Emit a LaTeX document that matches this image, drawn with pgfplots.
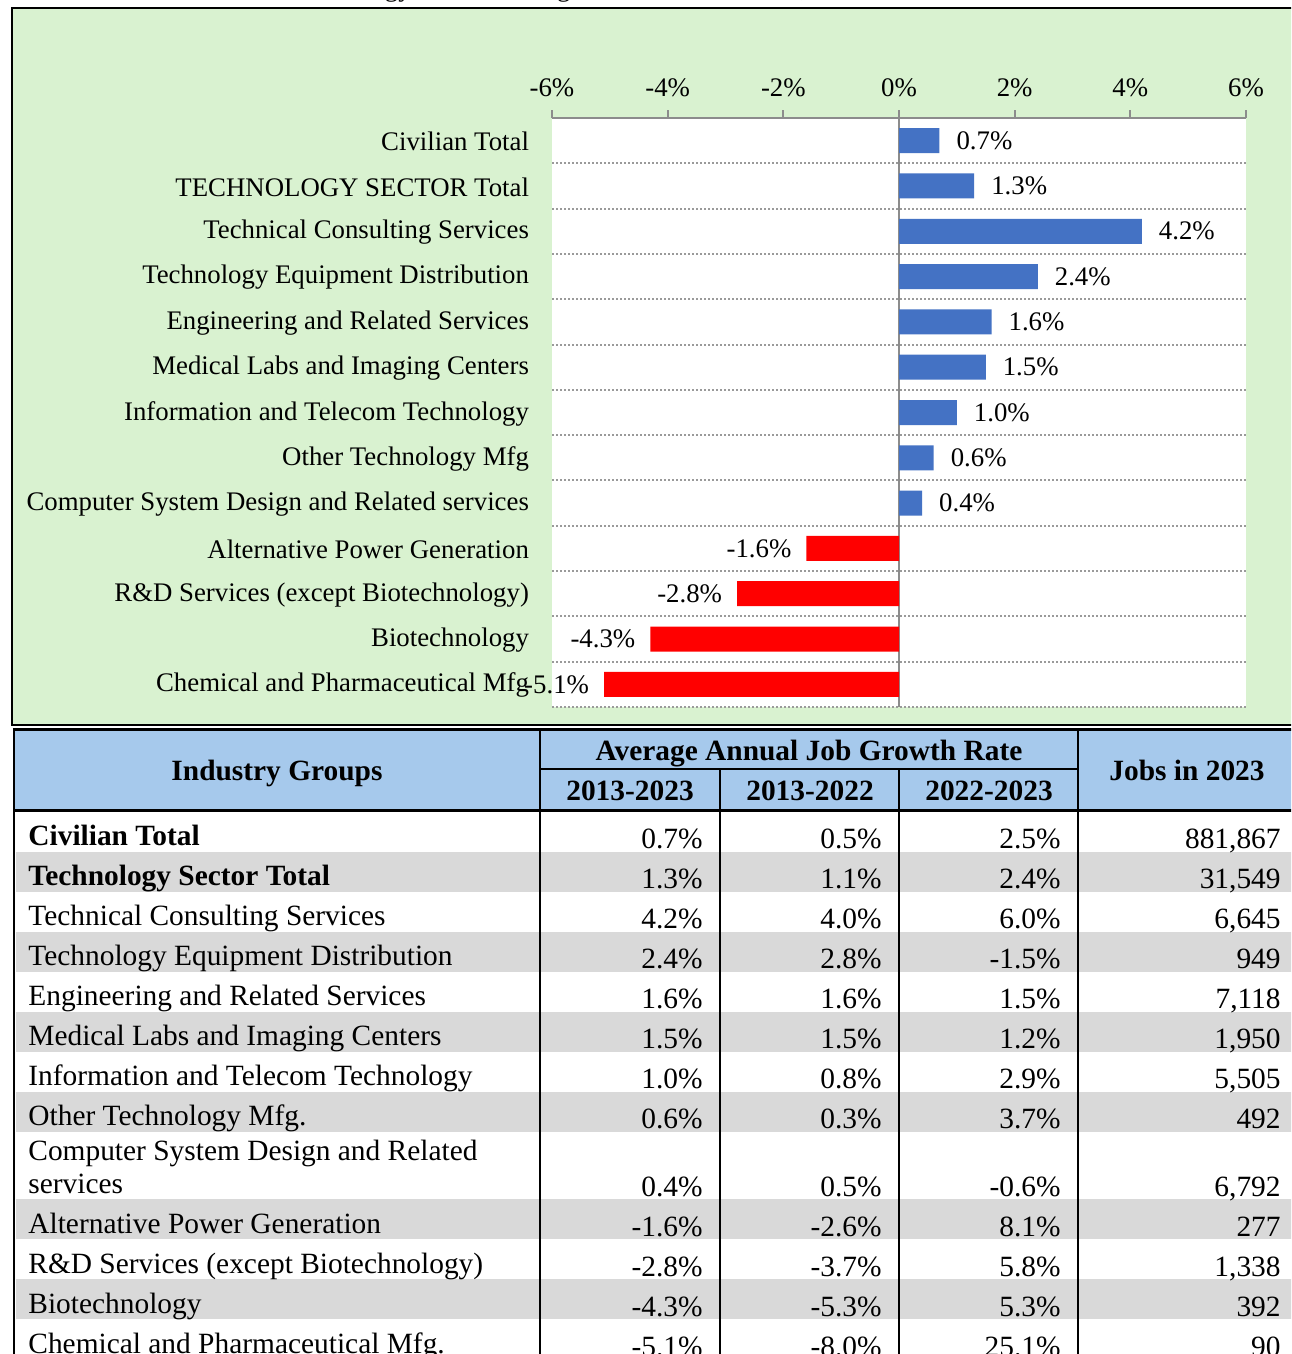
\documentclass[border=0pt]{standalone}
\usepackage{fontspec}
\setmainfont{Liberation Serif}
\usepackage{pgfplots}
\pgfplotsset{compat=1.18}
\definecolor{bg}{HTML}{D9F2D0}
\definecolor{barblue}{HTML}{4472C4}
\definecolor{barred}{HTML}{FF0000}
\definecolor{hdr}{HTML}{A6C9EC}
\definecolor{rowgray}{HTML}{D9D9D9}
\definecolor{axgray}{HTML}{8C8C8C}
\definecolor{gridgray}{HTML}{9A9A9A}
\newcommand\cfont{\fontsize{13.4}{15}\selectfont}
\newcommand\tfont{\fontsize{14.7}{17}\selectfont}
\newcommand\trow[6]{%
  \node[anchor=base west,font=\tfont,inner sep=0pt] at (28,#1) {#2};
  \node[anchor=base east,font=\tfont,inner sep=0pt] at (703,#1+3) {#3};
  \node[anchor=base east,font=\tfont,inner sep=0pt] at (882,#1+3) {#4};
  \node[anchor=base east,font=\tfont,inner sep=0pt] at (1061,#1+3) {#5};
  \node[anchor=base east,font=\tfont,inner sep=0pt] at (1281,#1+3) {#6};}
\begin{document}
\begin{tikzpicture}
\begin{scope}[x=0.5pt,y=-0.5pt]
\useasboundingbox (0,0) rectangle (1291,1354);
\clip (0,0) rectangle (1291,1354);
\node[anchor=base,font=\cfont] at (560,-3) {Table 4: Technology Sector Average Annual Job Growth, 2013-2023};
\draw[fill=bg,line width=1pt] (12,8) rectangle (1320,725);
\end{scope}

\begin{axis}[
  at={(276pt,-59pt)}, anchor=north west,
  scale only axis, width=347pt, height=294.5pt,
  xbar, bar width=12.5pt, bar shift=0pt,
  xmin=-6, xmax=6, ymin=-0.5, ymax=12.5, y dir=reverse,
  enlargelimits=false, clip=false,
  axis x line*=top, axis y line*=left,
  y axis line style={draw=none},
  x axis line style={draw=axgray, line width=1.2pt},
  axis background/.style={fill=white},
  xtick={-6,-4,...,6},
  xticklabel={\pgfmathprintnumber{\tick}\%},
  tick align=outside, major tick length=4pt, minor tick length=0pt,
  xtick style={draw=axgray, line width=1pt},
  ytick={0,...,12},
  yticklabels={Civilian Total,TECHNOLOGY SECTOR Total,Technical Consulting Services,Technology Equipment Distribution,Engineering and Related Services,Medical Labs and Imaging Centers,Information and Telecom Technology,Other Technology Mfg,Computer System Design and Related services,Alternative Power Generation,R\&D Services (except Biotechnology),Biotechnology,Chemical and Pharmaceutical Mfg},
  ytick style={draw=none},
  minor ytick={0.5,1.5,...,12.5},
  yminorgrids,
  minor grid style={draw=gridgray, dash pattern=on 1pt off 1pt, line width=1pt},
  extra x ticks={0}, extra x tick labels={},
  extra x tick style={grid=major, major grid style={draw=axgray, line width=1.4pt}, major tick length=0pt},
  tick label style={font=\cfont},
  yticklabel style={xshift=-4pt, yshift=-0.5pt},
  xticklabel style={yshift=3pt},
  /pgf/number format/assume math mode=true,
  point meta=x,
  nodes near coords={\pgfmathprintnumber[fixed,fixed zerofill,precision=1]{\pgfplotspointmeta}\%},
  nodes near coords style={font=\cfont, text=black},
]
\addplot[fill=barblue, draw=none,
  every node near coord/.append style={anchor=west, xshift=5pt}]
  coordinates {(0.7,0) (1.3,1) (4.2,2) (2.4,3) (1.6,4) (1.5,5) (1.0,6) (0.6,7) (0.4,8)};
\addplot[fill=barred, draw=none,
  every node near coord/.append style={anchor=east, xshift=-4pt}]
  coordinates {(-1.6,9) (-2.8,10) (-4.3,11) (-5.1,12)};
\end{axis}

\begin{scope}[x=0.5pt,y=-0.5pt]
\clip (0,0) rectangle (1291,1354);
% header
\fill[hdr] (14,729) rectangle (1320,810);
% gray rows
\fill[rowgray] (16,852) rectangle (1320,892);
\fill[rowgray] (16,932) rectangle (1320,972);
\fill[rowgray] (16,1012) rectangle (1320,1052);
\fill[rowgray] (16,1092) rectangle (1320,1132);
\fill[rowgray] (16,1199) rectangle (1320,1239);
\fill[rowgray] (16,1279) rectangle (1320,1319);
% lines
\draw[line width=1.5pt] (13,729) -- (1320,729);
\draw[line width=1.5pt] (13,810) -- (1320,810);
\draw[line width=1pt] (540,769) -- (1078,769);
\draw[line width=1pt] (14,728) -- (14,1360);
\draw[line width=1pt] (540,729) -- (540,1360);
\draw[line width=1pt] (1078,729) -- (1078,1360);
\draw[line width=1pt] (720,769) -- (720,1360);
\draw[line width=1pt] (899,769) -- (899,1360);
% header text
\begin{scope}[every node/.style={font=\tfont\bfseries,inner sep=0pt}]
\node[anchor=base] at (277,780) {Industry Groups};
\node[anchor=base] at (809,760) {Average Annual Job Growth Rate};
\node[anchor=base] at (630,800) {2013-2023};
\node[anchor=base] at (810,800) {2013-2022};
\node[anchor=base] at (989,800) {2022-2023};
\node[anchor=base] at (1187,780) {Jobs in 2023};
\end{scope}
% rows
\trow{845}{\bfseries Civilian Total}{0.7\%}{0.5\%}{2.5\%}{881,867}
\trow{885}{\bfseries Technology Sector Total}{1.3\%}{1.1\%}{2.4\%}{31,549}
\trow{925}{Technical Consulting Services}{4.2\%}{4.0\%}{6.0\%}{6,645}
\trow{965}{Technology Equipment Distribution}{2.4\%}{2.8\%}{-1.5\%}{949}
\trow{1005}{Engineering and Related Services}{1.6\%}{1.6\%}{1.5\%}{7,118}
\trow{1045}{Medical Labs and Imaging Centers}{1.5\%}{1.5\%}{1.2\%}{1,950}
\trow{1085}{Information and Telecom Technology}{1.0\%}{0.8\%}{2.9\%}{5,505}
\trow{1125}{Other Technology Mfg.}{0.6\%}{0.3\%}{3.7\%}{492}
\node[anchor=base west,font=\tfont,inner sep=0pt] at (28,1160) {Computer System Design and Related};
\trow{1193}{services}{0.4\%}{0.5\%}{-0.6\%}{6,792}
\trow{1233}{Alternative Power Generation}{-1.6\%}{-2.6\%}{8.1\%}{277}
\trow{1273}{R\&D Services (except Biotechnology)}{-2.8\%}{-3.7\%}{5.8\%}{1,338}
\trow{1313}{Biotechnology}{-4.3\%}{-5.3\%}{5.3\%}{392}
\trow{1353}{Chemical and Pharmaceutical Mfg.}{-5.1\%}{-8.0\%}{25.1\%}{90}
\end{scope}
\end{tikzpicture}
\end{document}
